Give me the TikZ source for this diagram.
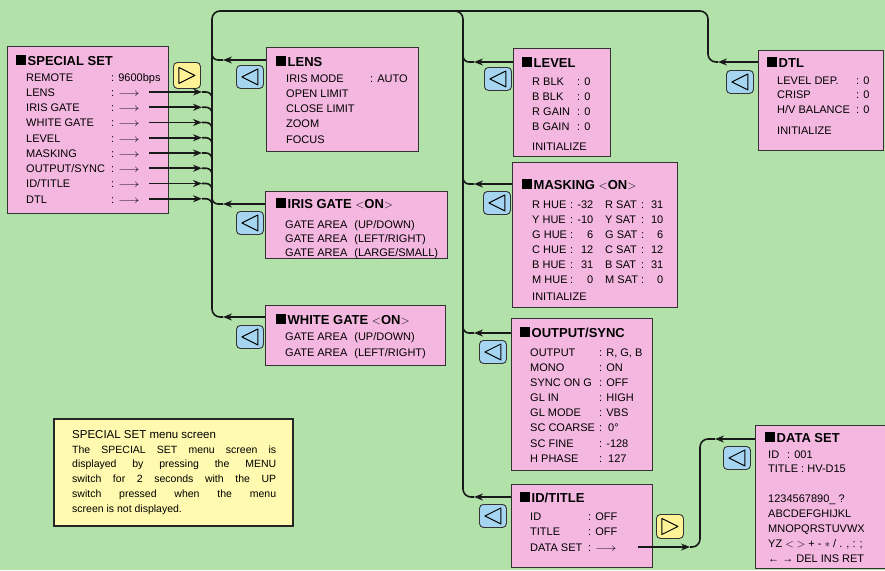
\documentclass[tikz,border=0pt]{standalone}
\usepackage{fontspec}
\setmainfont{Liberation Sans}
\usepackage{graphicx}
\usetikzlibrary{arrows.meta,positioning,calc}
\definecolor{bggreen}{RGB}{178,225,170}
\definecolor{menupink}{RGB}{244,184,224}
\definecolor{keyblue}{RGB}{165,213,240}
\definecolor{keyyellow}{RGB}{255,242,150}
\definecolor{notebg}{RGB}{255,250,175}

\newcommand{\menusq}{\rule{10pt}{10pt}\hspace{1.5pt}}
\newcommand{\fieldname}[2]{\makebox[#1][l]{#2}}
\newcommand{\menuarrow}{\scalebox{1.2}[1]{$\longrightarrow$}}
\newcommand{\maskrow}[4]{\makebox[73pt][l]{\fieldname{38pt}{#1}:\makebox[20pt][r]{#2}}\fieldname{36pt}{#3}:\makebox[19pt][r]{#4}}

\begin{document}
\begin{tikzpicture}[x=1pt, y=-1pt,
    menubox/.style={draw=black!80, fill=menupink, line width=0.9pt, anchor=north west, inner sep=0pt},
    head/.style={anchor=base west, inner sep=0pt, font=\fontsize{13}{15}\selectfont\bfseries},
    rows/.style={anchor=north west, inner sep=0pt, align=left, font=\fontsize{11}{15.25}\selectfont},
    menukey/.style={draw=black!80, line width=0.9pt, rounded corners=4pt, anchor=north west, inner sep=0pt, minimum width=27pt, minimum height=23pt},
    backkey/.style={menukey, fill=keyblue},
    nextkey/.style={menukey, fill=keyyellow, minimum height=24pt},
    wire/.style={line width=1.6pt, black!90},
    wiretip/.style={wire, -{Stealth[length=9pt, width=7pt]}}
]
    \useasboundingbox (0,0) rectangle (885,570);
    \clip (0,0) rectangle (885,570);
    \fill[bggreen] (0,0) rectangle (885,570);

    % menu screens
    \node[menubox, minimum width=161pt, minimum height=167pt] (special) at (7,46) {};
    \node[head] (specialhead) at (16,65) {\menusq SPECIAL SET};
    \node[rows] (specialrows) at (26,70.3) {\strut\fieldname{85pt}{REMOTE}: 9600bps\\
        \fieldname{85pt}{LENS}: \menuarrow\\
        \fieldname{85pt}{IRIS GATE}: \menuarrow\\
        \fieldname{85pt}{WHITE GATE}: \menuarrow\\
        \fieldname{85pt}{LEVEL}: \menuarrow\\
        \fieldname{85pt}{MASKING}: \menuarrow\\
        \fieldname{85pt}{OUTPUT/SYNC}: \menuarrow\\
        \fieldname{85pt}{ID/TITLE}: \menuarrow\\
        \fieldname{85pt}{DTL}: \menuarrow};

    \node[menubox, minimum width=152pt, minimum height=104pt] (lens) at (266,47) {};
    \node[head] (lenshead) at (276,66) {\menusq LENS};
    \node[rows] (lensrows) at (286,71.3) {\strut\fieldname{84pt}{IRIS MODE}: AUTO\\
        OPEN LIMIT\\CLOSE LIMIT\\ZOOM\\FOCUS};

    \node[menubox, minimum width=182pt, minimum height=67pt] (iris) at (265,191) {};
    \node[head] (irishead) at (276,208) {\menusq IRIS GATE $<$ON$>$};
    \node[rows, font=\fontsize{11}{14}\selectfont] (irisrows) at (285,218.2) {\strut GATE AREA\hspace{7pt}(UP/DOWN)\\
        GATE AREA\hspace{7pt}(LEFT/RIGHT)\\
        GATE AREA\hspace{7pt}(LARGE/SMALL)};

    \node[menubox, minimum width=180pt, minimum height=60pt] (white) at (265,305) {};
    \node[head] (whitehead) at (276,324) {\menusq WHITE GATE $<$ON$>$};
    \node[rows, font=\fontsize{11}{16}\selectfont] (whiterows) at (285,328.8) {\strut GATE AREA\hspace{7pt}(UP/DOWN)\\
        GATE AREA\hspace{7pt}(LEFT/RIGHT)};

    \node[menubox, minimum width=97pt, minimum height=108pt] (level) at (513,48) {};
    \node[head] (levelhead) at (522,67) {\menusq LEVEL};
    \node[rows, font=\fontsize{11}{15}\selectfont] (levelrows) at (532,74.5) {\strut\fieldname{45pt}{R BLK}: 0\\
        \fieldname{45pt}{B BLK}: 0\\
        \fieldname{45pt}{R GAIN}: 0\\
        \fieldname{45pt}{B GAIN}: 0\\[5pt]
        INITIALIZE};

    \node[menubox, minimum width=165pt, minimum height=145pt] (mask) at (512,162) {};
    \node[head] (maskhead) at (522,189) {\menusq MASKING $<$ON$>$};
    \node[rows, font=\fontsize{11}{15}\selectfont] (maskrows) at (532,197.5) {\strut\maskrow{R HUE}{-32}{R SAT}{31}\\
        \maskrow{Y HUE}{-10}{Y SAT}{10}\\
        \maskrow{G HUE}{6}{G SAT}{6}\\
        \maskrow{C HUE}{12}{C SAT}{12}\\
        \maskrow{B HUE}{31}{B SAT}{31}\\
        \maskrow{M HUE}{0}{M SAT}{0}\\[2pt]
        INITIALIZE};

    \node[menubox, minimum width=141pt, minimum height=152pt] (out) at (511,318) {};
    \node[head] (outhead) at (520,337) {\menusq OUTPUT/SYNC};
    \node[rows, font=\fontsize{11}{15.15}\selectfont] (outrows) at (530,345.4) {\strut\fieldname{69pt}{OUTPUT}: R, G, B\\
        \fieldname{69pt}{MONO}: ON\\
        \fieldname{69pt}{SYNC ON G}: OFF\\
        \fieldname{69pt}{GL IN}: HIGH\\
        \fieldname{69pt}{GL MODE}: VBS\\
        \fieldname{69pt}{SC COARSE}: \,0°\\
        \fieldname{69pt}{SC FINE}: -128\\
        \fieldname{69pt}{H PHASE}: \,127};

    \node[menubox, minimum width=141pt, minimum height=83pt] (idt) at (511,484) {};
    \node[head] (idthead) at (520,502) {\menusq ID/TITLE};
    \node[rows, font=\fontsize{11}{15.5}\selectfont] (idtrows) at (530,509.2) {\strut\fieldname{58pt}{ID}: OFF\\
        \fieldname{58pt}{TITLE}: OFF\\
        \fieldname{58pt}{DATA SET}: \menuarrow};

    \node[menubox, minimum width=125pt, minimum height=100pt] (dtl) at (758,50) {};
    \node[head] (dtlhead) at (767,67) {\menusq DTL};
    \node[rows, font=\fontsize{11}{14.5}\selectfont] (dtlrows) at (777,73.85) {\strut\fieldname{79pt}{LEVEL DEP.}: 0\\
        \fieldname{79pt}{CRISP}: 0\\
        \fieldname{79pt}{H/V BALANCE}: 0\\[6.5pt]
        INITIALIZE};

    \node[menubox, minimum width=140pt, minimum height=143pt] (data) at (755,425) {};
    \node[head] (datahead) at (765,442) {\menusq DATA SET};
    \node[rows, font=\fontsize{11}{14.8}\selectfont] (datarows) at (768,447.6) {\strut\fieldname{19pt}{ID}: 001\\
        TITLE : HV-D15\\[15.2pt]
        1234567890\_ ?\\
        ABCDEFGHIJKL\\
        MNOPQRSTUVWX\\
        YZ $<$ $>$ + - $\ast$ / . , : ;\\
        ← → DEL INS RET};

    % keys
    \node[nextkey, minimum height=26pt] (kspecial) at (173,62) {};
    \node[backkey] (klens) at (236,65) {};
    \node[backkey] (kiris) at (236,211) {};
    \node[backkey] (kwhite) at (236,325) {};
    \node[backkey] (klevel) at (484,67) {};
    \node[backkey] (kmask) at (483,191) {};
    \node[backkey] (kout) at (479,340) {};
    \node[backkey] (kid) at (479,504) {};
    \node[backkey] (kdtl) at (726,70) {};
    \node[backkey] (kdata) at (723,446) {};
    \node[nextkey] (knext) at (656,514) {};
    \foreach \k in {klens,kiris,kwhite,klevel,kmask,kout,kid,kdtl,kdata}
        \draw[line width=1pt, line join=round] ($(\k.center)+(-8,0)$) -- ++(16,-8) -- ++(0,16) -- cycle;
    \foreach \k in {kspecial,knext}
        \draw[line width=1pt, line join=round] ($(\k.center)+(8,0)$) -- ++(-16,-8) -- ++(0,16) -- cycle;

    % note
    \node[draw=black!85, line width=1.6pt, fill=notebg, anchor=north west, inner sep=0pt,
          minimum width=239pt, minimum height=107pt] (note) at (53,418) {};
    \node[anchor=base west, inner sep=0pt, font=\fontsize{11.5}{14}\selectfont] (notehead) at (72,438) {SPECIAL SET menu screen};
    \node[anchor=north west, inner sep=0pt, align=left, font=\fontsize{10.5}{14.8}\selectfont] (notebody) at (72,442.6) {\strut\makebox[204pt][s]{The SPECIAL SET menu screen is}\\
        \makebox[204pt][s]{displayed by pressing the MENU}\\
        \makebox[204pt][s]{switch for 2 seconds with the UP}\\
        \makebox[204pt][s]{switch pressed when the menu}\\
        screen is not displayed.};

    % wires
    \coordinate (busA) at (212,11);
    \coordinate (busB) at (463,11);
    \coordinate (busC) at (708,11);

    \foreach \k in {0,...,7}{
        \coordinate (sout\k) at ($(special.north west)+(142,46+15.25*\k)$);
        \draw[wiretip] (sout\k) -- ++(53,0) coordinate (send\k);
        \draw[wire, rounded corners=6] (send\k) -- (send\k -| busA) -- ++(0,10);
    }

    \coordinate (white-in) at ($(white.north west)+(0,12)$);
    \coordinate (dtl-in) at ($(dtl.north west)+(0,12)$);
    \draw[wiretip] (white-in) -- ($(white-in -| busA)+(11,0)$) coordinate (white-end);
    \draw[wiretip] (dtl-in) -- ($(dtl-in -| busC)+(10,0)$) coordinate (dtl-end);
    \draw[wire, rounded corners=8] (white-end) -- (white-in -| busA) -- (busA) -- (busC) -- (dtl-in -| busC) -- (dtl-end);

    \coordinate (idt-in) at ($(idt.north west)+(0,13)$);
    \draw[wiretip] (idt-in) -- ($(idt-in -| busB)+(11,0)$) coordinate (idt-end);
    \draw[wire, rounded corners=8] ($(busB)+(-20,0)$) -- (busB) -- (idt-in -| busB) -- (idt-end);

    \foreach \b/\dy/\bus in {lens/13/busA, iris/13/busA, level/14/busB, mask/22/busB, out/15/busB}{
        \coordinate (\b-in) at ($(\b.north west)+(0,\dy)$);
        \draw[wiretip] (\b-in) -- ($(\b-in -| \bus)+(11,0)$) coordinate (\b-end);
        \draw[wire, rounded corners=6] (\b-end) -- (\b-in -| \bus) -- ++(0,-10);
    }

    \coordinate (dsout) at ($(idt.north west)+(127,63)$);
    \coordinate (dsin) at ($(data.north west)+(0,14)$);
    \draw[wiretip] (dsout) -- ++(52,0) coordinate (dsmid);
    \draw[wiretip] (dsin) -- ++(-40,0) coordinate (dsend);
    \draw[wire, rounded corners=8] (dsmid) -- ++(10,0) |- (dsend);
\end{tikzpicture}
\end{document}
